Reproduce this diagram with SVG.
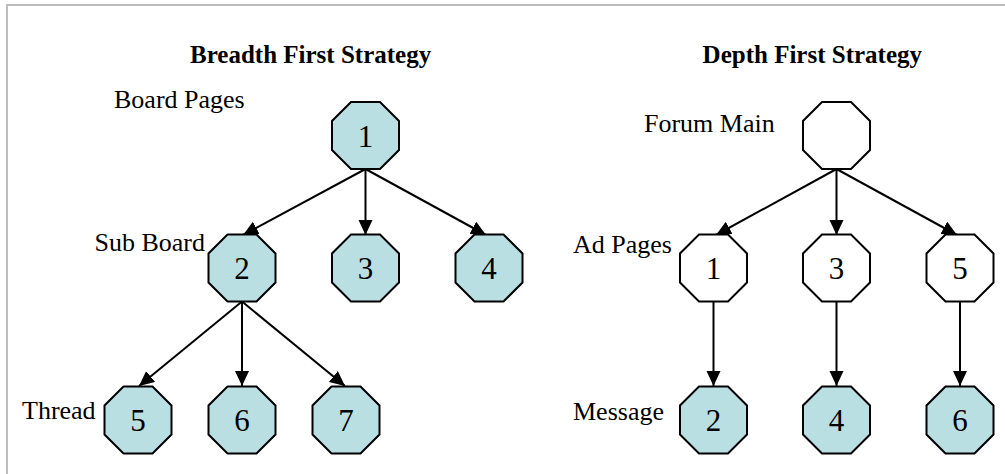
<svg xmlns="http://www.w3.org/2000/svg" xmlns:xlink="http://www.w3.org/1999/xlink" width="1005" height="474" viewBox="0 0 1005 474">
  <style>
    .frame { fill: none; stroke: #bdbdbd; stroke-width: 2; }
    .title { font-family: "Liberation Serif", "Times New Roman", serif; font-size: 25px; font-weight: bold; fill: #000; }
    .label { font-family: "Liberation Serif", "Times New Roman", serif; font-size: 26px; fill: #000; }
    .num { font-family: "Liberation Serif", "Times New Roman", serif; font-size: 31px; fill: #000; text-anchor: middle; }
    .oct { stroke: #000; stroke-width: 2; stroke-linejoin: miter; }
    .filled { fill: #badfe3; }
    .empty { fill: #fff; }
    .edge { stroke: #000; stroke-width: 2; fill: none; marker-end: url(#arrow); }
  </style>
  <defs>
    <!-- regular octagon centred on the origin, 67px across -->
    <polygon id="octagon" points="-14.5,-33.5 14.5,-33.5 33.5,-14.5 33.5,14.5 14.5,33.5 -14.5,33.5 -33.5,14.5 -33.5,-14.5"/>
    <marker id="arrow" markerUnits="userSpaceOnUse" markerWidth="16" markerHeight="15" refX="15" refY="7" orient="auto">
      <path d="M0,0 L15,7 L0,14 z" fill="#000"/>
    </marker>
  </defs>

  <rect width="1005" height="474" fill="#fff"/>

  <!-- page frame -->
  <path class="frame" d="M7,474 L7,5 L1005,5"/>

  <!-- headings -->
  <text class="title" x="190" y="63">Breadth First Strategy</text>
  <text class="title" x="922" y="63" text-anchor="end">Depth First Strategy</text>

  <!-- level captions -->
  <text class="label" x="114" y="108">Board Pages</text>
  <text class="label" x="205" y="251" text-anchor="end">Sub Board</text>
  <text class="label" x="22" y="419">Thread</text>
  <text class="label" x="644" y="132">Forum Main</text>
  <text class="label" x="573" y="253">Ad Pages</text>
  <text class="label" x="573" y="420">Message</text>

  <!-- connectors -->
  <g id="connectors">
    <line class="edge" x1="365.5" y1="169" x2="243" y2="235"/>
    <line class="edge" x1="365.5" y1="169" x2="365.5" y2="235"/>
    <line class="edge" x1="365.5" y1="169" x2="486" y2="235"/>
    <line class="edge" x1="242" y1="301.5" x2="139" y2="386"/>
    <line class="edge" x1="242" y1="301.5" x2="242" y2="386"/>
    <line class="edge" x1="242" y1="301.5" x2="345" y2="386"/>

    <line class="edge" x1="836.5" y1="169" x2="716" y2="235"/>
    <line class="edge" x1="836.5" y1="169" x2="836.5" y2="235"/>
    <line class="edge" x1="836.5" y1="169" x2="957" y2="235"/>
    <line class="edge" x1="713.5" y1="301.5" x2="713.5" y2="386"/>
    <line class="edge" x1="836.5" y1="301.5" x2="836.5" y2="386"/>
    <line class="edge" x1="960" y1="301.5" x2="960" y2="386"/>
  </g>

  <!-- breadth first tree -->
  <g id="bf-1"><use xlink:href="#octagon" href="#octagon" class="oct filled" x="365.5" y="135.5"/><text class="num" x="365.5" y="146.5">1</text></g>
  <g id="bf-2"><use xlink:href="#octagon" href="#octagon" class="oct filled" x="242" y="268"/><text class="num" x="242" y="279">2</text></g>
  <g id="bf-3"><use xlink:href="#octagon" href="#octagon" class="oct filled" x="365.5" y="268"/><text class="num" x="365.5" y="279">3</text></g>
  <g id="bf-4"><use xlink:href="#octagon" href="#octagon" class="oct filled" x="489" y="268"/><text class="num" x="489" y="279">4</text></g>
  <g id="bf-5"><use xlink:href="#octagon" href="#octagon" class="oct filled" x="138" y="420"/><text class="num" x="138" y="431">5</text></g>
  <g id="bf-6"><use xlink:href="#octagon" href="#octagon" class="oct filled" x="242" y="420"/><text class="num" x="242" y="431">6</text></g>
  <g id="bf-7"><use xlink:href="#octagon" href="#octagon" class="oct filled" x="346" y="420"/><text class="num" x="346" y="431">7</text></g>

  <!-- depth first tree -->
  <g id="df-root"><use xlink:href="#octagon" href="#octagon" class="oct empty" x="836.5" y="135.5"/></g>
  <g id="df-1"><use xlink:href="#octagon" href="#octagon" class="oct empty" x="713.5" y="268"/><text class="num" x="713.5" y="279">1</text></g>
  <g id="df-3"><use xlink:href="#octagon" href="#octagon" class="oct empty" x="836.5" y="268"/><text class="num" x="836.5" y="279">3</text></g>
  <g id="df-5"><use xlink:href="#octagon" href="#octagon" class="oct empty" x="960" y="268"/><text class="num" x="960" y="279">5</text></g>
  <g id="df-2"><use xlink:href="#octagon" href="#octagon" class="oct filled" x="713.5" y="420"/><text class="num" x="713.5" y="431">2</text></g>
  <g id="df-4"><use xlink:href="#octagon" href="#octagon" class="oct filled" x="836.5" y="420"/><text class="num" x="836.5" y="431">4</text></g>
  <g id="df-6"><use xlink:href="#octagon" href="#octagon" class="oct filled" x="960" y="420"/><text class="num" x="960" y="431">6</text></g>
</svg>
